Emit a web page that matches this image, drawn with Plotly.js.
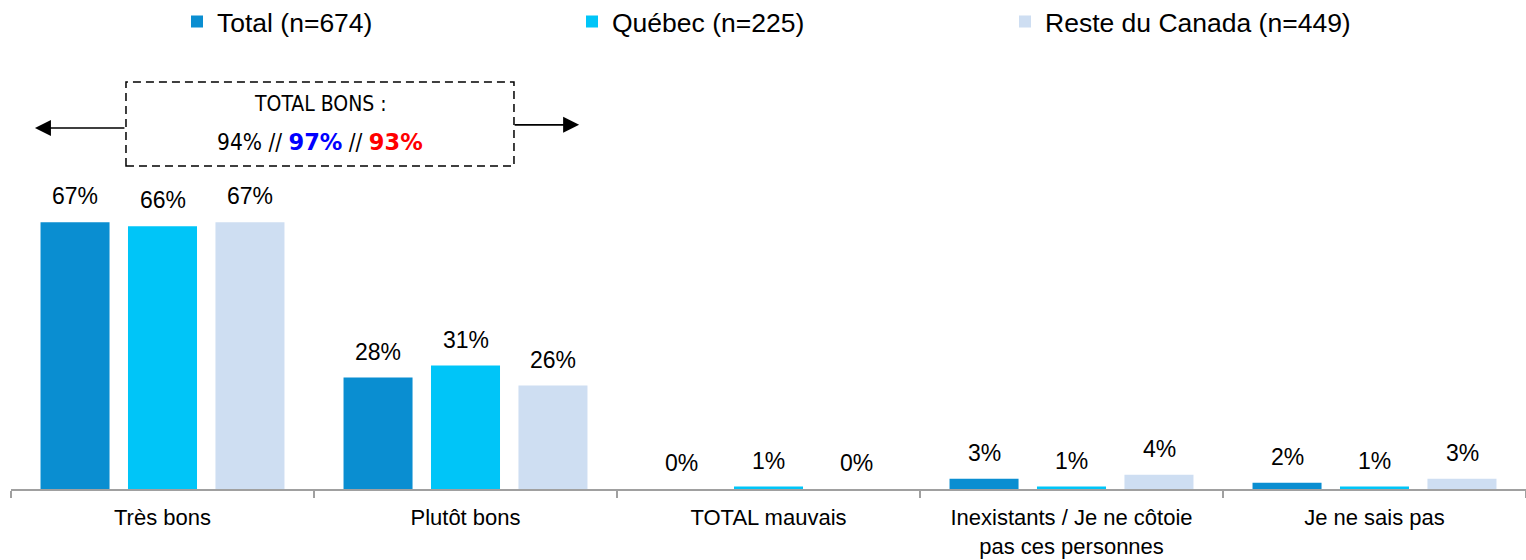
<!DOCTYPE html>
<html>
<head>
<meta charset="utf-8">
<script src="https://cdn.plot.ly/plotly-3.0.1.min.js"></script>
<style>html,body{margin:0;padding:0;background:#fff;}#chart{width:1526px;height:560px;}</style>
</head>
<body>
<div id="chart"></div>
<script>
// ---- data ----
const categories = ["Très bons", "Plutôt bons", "TOTAL mauvais", "Inexistants / Je ne côtoie<br>pas ces personnes", "Je ne sais pas"];
const seriesNames = ["Total (n=674)", "Québec (n=225)", "Reste du Canada (n=449)"];
const totalValues = [67, 28, 0, 2.6, 1.6];
const quebecValues = [66, 31, 0.6, 0.6, 0.6];
const resteValues = [67, 26, 0, 3.6, 2.6];
const boxTitle = "TOTAL BONS :";
const boxTotals = ["94%", "97%", "93%"];

// ---- style ----
const colors = ["#0A8ED1", "#00C5F8", "#CEDEF2"];
const seriesValues = [totalValues, quebecValues, resteValues];
const legendIds = ["legend", "legend2", "legend3"];
const labelShift = [-87.5, 0, 87.5];
const FONT = "'Liberation Sans', Arial, sans-serif";

const traces = seriesValues.map((vals, i) => ({
  type: "bar",
  name: seriesNames[i],
  x: categories,
  y: vals,
  marker: {color: colors[i], line: {width: 0}},
  legend: legendIds[i],
  hoverinfo: "skip"
}));

const annotations = [];
seriesValues.forEach((vals, i) => {
  vals.forEach((v, j) => {
    annotations.push({
      x: categories[j], y: v, xref: "x", yref: "y",
      text: Math.round(v) + "%",
      showarrow: false, xanchor: "center", yanchor: "middle",
      xshift: labelShift[i], yshift: 26,
      font: {family: FONT, size: 23, color: "#000"}
    });
  });
});

const boxFont = "'DejaVu Sans Condensed', 'DejaVu Sans', sans-serif";
annotations.push({
  xref: "paper", yref: "paper", x: 0.204, y: 0.967, xanchor: "center", yanchor: "middle",
  text: boxTitle, showarrow: false, font: {family: boxFont, size: 21, color: "#000"}
});
annotations.push({
  xref: "paper", yref: "paper", x: 0.204, y: 0.872, xanchor: "center", yanchor: "middle",
  text: boxTotals[0] + " // <span style=\"font-family:'DejaVu Sans';font-weight:bold;color:#0000FF\">" + boxTotals[1] +
        "</span> // <span style=\"font-family:'DejaVu Sans';font-weight:bold;color:#FF0000\">" + boxTotals[2] + "</span>",
  showarrow: false, font: {family: boxFont, size: 22.5, color: "#000"}
});
// arrows
annotations.push({
  xref: "paper", yref: "paper", x: 0.0158, y: 0.907, text: "", showarrow: true,
  axref: "pixel", ayref: "pixel", ax: 91, ay: 0,
  arrowhead: 2, arrowsize: 2, arrowwidth: 1.6, arrowcolor: "#000", standoff: 0
});
annotations.push({
  xref: "paper", yref: "paper", x: 0.375, y: 0.915, text: "", showarrow: true,
  axref: "pixel", ayref: "pixel", ax: -66, ay: 0,
  arrowhead: 2, arrowsize: 2, arrowwidth: 1.6, arrowcolor: "#000", standoff: 0
});

const legendBase = {
  orientation: "h", xref: "container", yref: "container", y: 0.961, yanchor: "middle", xanchor: "left",
  font: {family: FONT, size: 26.5, color: "#000"}, bgcolor: "rgba(0,0,0,0)", borderwidth: 0
};

const layout = {
  width: 1526, height: 560,
  margin: {l: 11, r: 0, t: 91, b: 71},
  paper_bgcolor: "#fff", plot_bgcolor: "#fff",
  barmode: "group", bargap: 0.134, bargroupgap: 0.211,
  showlegend: true,
  legend: Object.assign({}, legendBase, {x: 177 / 1526}),
  legend2: Object.assign({}, legendBase, {x: 572 / 1526}),
  legend3: Object.assign({}, legendBase, {x: 1005 / 1526}),
  xaxis: {
    type: "category", tickson: "boundaries", ticks: "outside", ticklen: 7, tickwidth: 1.5, tickcolor: "#a0a0a0",
    showline: true, linecolor: "#a0a0a0", linewidth: 2, showgrid: false, zeroline: false,
    ticklabelstandoff: 8,
    tickfont: {family: FONT, size: 22, color: "#000"}, fixedrange: true
  },
  yaxis: {range: [0, 100], visible: false, fixedrange: true},
  shapes: [{
    type: "rect", xref: "paper", yref: "paper", x0: 0.0759, x1: 0.332, y0: 0.8116, y1: 1.0226,
    line: {color: "#000", width: 1.5, dash: "8px,5px"}, fillcolor: "rgba(0,0,0,0)"
  }],
  annotations: annotations
};

Plotly.newPlot("chart", traces, layout, {displayModeBar: false, staticPlot: true});
</script>
</body>
</html>
